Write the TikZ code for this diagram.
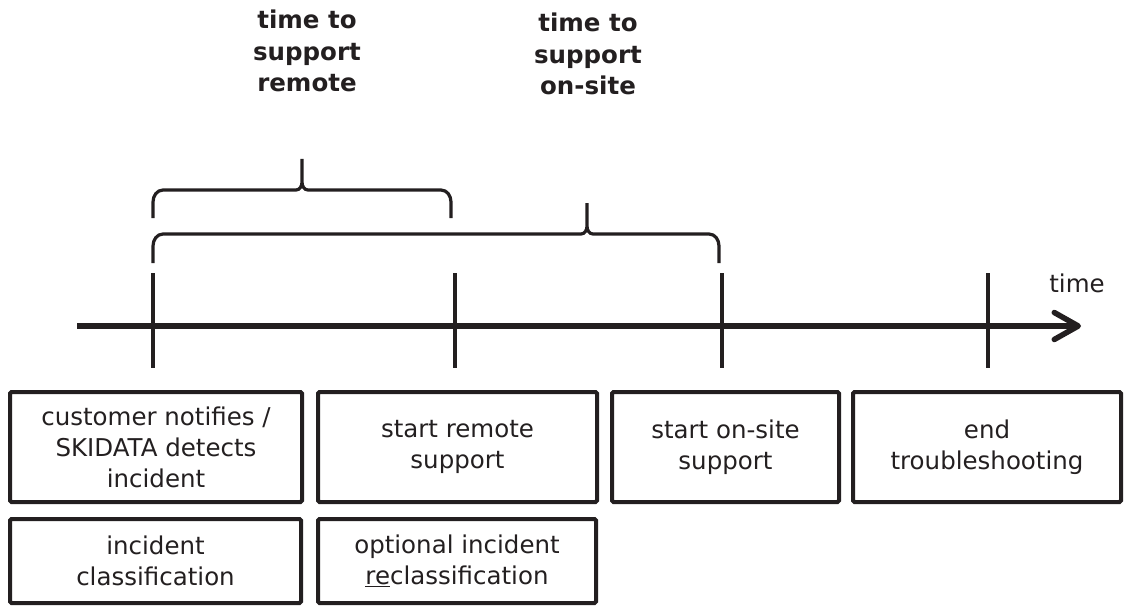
\documentclass[tikz,border=0pt]{standalone}
\usepackage{fontspec}
\setmainfont{DejaVu Sans}
\usetikzlibrary{arrows.meta}
\definecolor{ink}{HTML}{231F20}

\begin{document}
\begin{tikzpicture}[x=1pt,y=-1pt,ink,
    stage/.style={draw=ink,text=ink,line width=4pt,rounded corners=1.5pt,align=center,inner sep=0pt,
      font=\fontsize{24.5}{31}\selectfont},
    heading/.style={text=ink,align=center,font=\fontsize{24.5}{31.5}\selectfont\bfseries},
    tick/.style={line width=3.8pt},
    brace/.style={line width=3.2pt}]
    \useasboundingbox (0,0) rectangle (1127,607);
    % time axis
    \coordinate (start) at (77,326);
    \coordinate (stop) at (1081,326);
    \draw[line width=5.5pt,-{Straight Barb[length=24pt,width=27pt,line cap=round,line join=round]}] (start) -- (stop);
    \node[text=ink,font=\fontsize{24.5}{31}\selectfont] (timelabel) at (1077,283) {time};%
    \draw[tick] (153,273) -- (153,368);
    \draw[tick] (455,273) -- (455,368);
    \draw[tick] (722,273) -- (722,368);
    \draw[tick] (988,273) -- (988,368);%
    % braces
    \draw[brace] (153,218) -- (153,202) to[out=90,in=180] (163,190) -- (296,190) to[out=0,in=-90] (302,182) -- (302,159)
      -- (302,182) to[out=-90,in=180] (308,190) -- (441,190) to[out=0,in=90] (451,202) -- (451,218);
    \draw[brace] (153,263) -- (153,246) to[out=90,in=180] (163,234) -- (581,234) to[out=0,in=-90] (587,226) -- (587,203)
      -- (587,226) to[out=-90,in=180] (593,234) -- (709,234) to[out=0,in=90] (719,246) -- (719,263);%
    \node[heading] (remote) at (307,51) {time to\\support\\remote};
    \node[heading] (onsite) at (588,54) {time to\\support\\on-site};%
    % steps
    \node[stage,minimum width=292pt,minimum height=110pt] (notify) at (156,447) {customer notifies /\\SKIDATA detects\\incident};
    \node[stage,minimum width=279pt,minimum height=110pt] (remotestart) at (457.5,447) {start remote\\support};
    \node[stage,minimum width=227pt,minimum height=110pt] (onsitestart) at (725.5,447) {start on-site\\support};
    \node[stage,minimum width=268pt,minimum height=110pt] (finish) at (987,447) {end\\troubleshooting};
    \node[stage,minimum width=291pt,minimum height=84pt] (classify) at (155.5,561) {incident\\classification};
    \node[stage,minimum width=278pt,minimum height=84pt] (reclassify) at (457,561) {optional incident\\\underline{re}classification};
\end{tikzpicture}
\end{document}
